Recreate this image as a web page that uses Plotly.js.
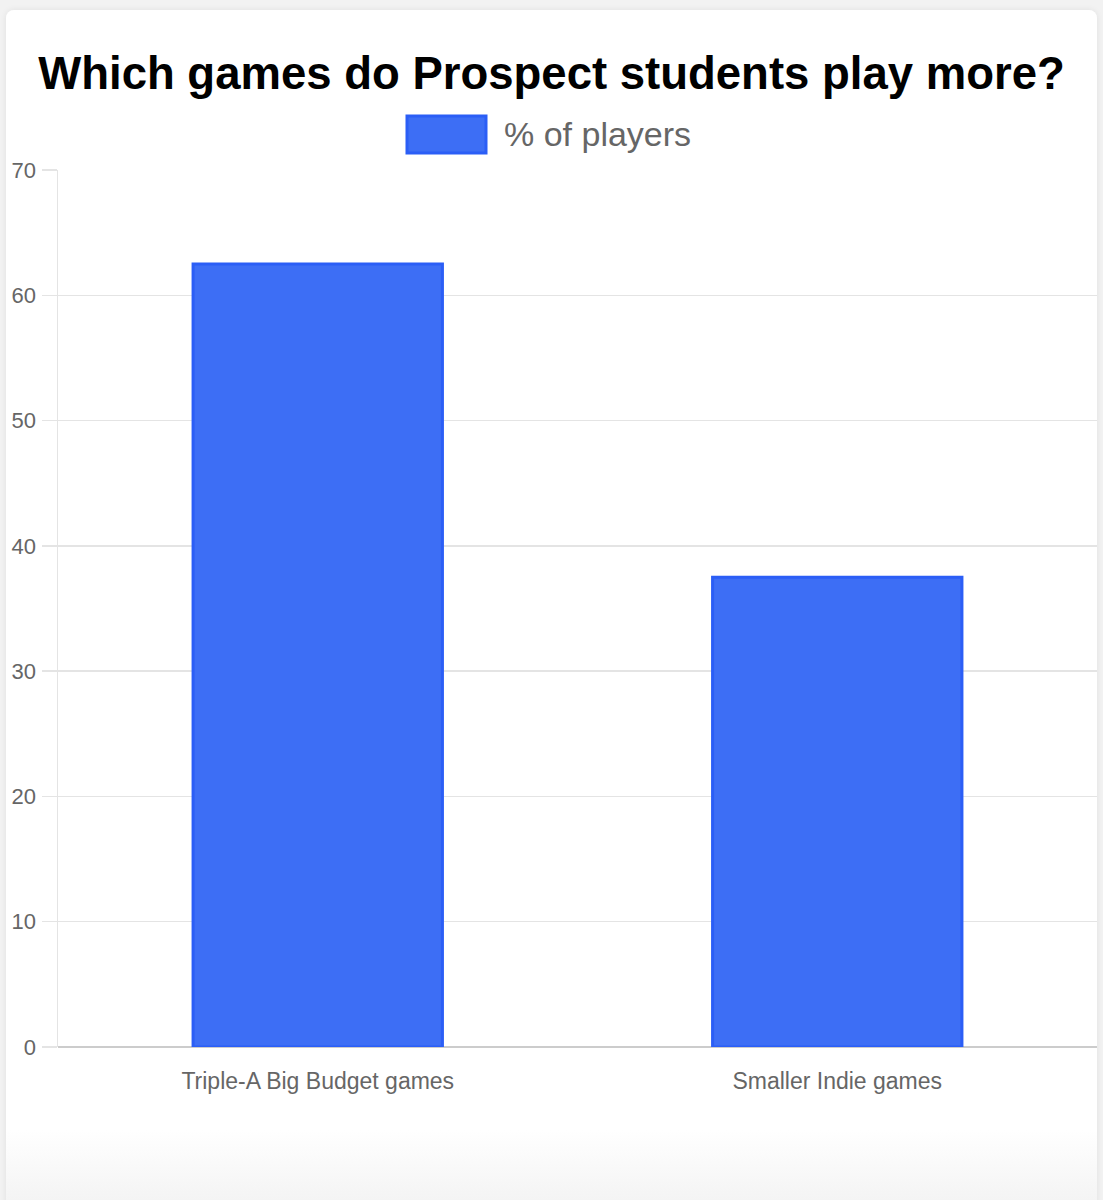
<!DOCTYPE html>
<html>
<head>
<meta charset="utf-8">
<script src="https://cdn.plot.ly/plotly-3.0.1.min.js"></script>
<style>
  html, body { margin: 0; padding: 0; background: #f2f2f2; }
  body { width: 1103px; height: 1200px; position: relative; overflow: hidden; }
  #card {
    position: absolute; left: 6px; top: 10px; width: 1091px; height: 1200px;
    background: linear-gradient(to bottom, #ffffff 0px, #ffffff 1120px, #f4f4f4 1190px);
    border-radius: 8px; box-shadow: 0 0 6px rgba(0,0,0,0.08);
  }
  #chart { position: absolute; left: 0; top: 0; width: 1103px; height: 1200px; }
</style>
</head>
<body>
<div id="card"></div>
<div id="chart"></div>
<script>
// ── Data ──────────────────────────────────────────────
var categories = ['Triple-A Big Budget games', 'Smaller Indie games'];
var pctPlayers = [62.5, 37.5];
var seriesName = '% of players';
var chartTitle = 'Which games do Prospect students play more?';
var yTicks     = [0, 10, 20, 30, 40, 50, 60, 70];

var FILL   = '#3d6ef5';
var BORDER = '#2b5ef6';
var MUTED  = '#666666';
var GRID   = '#e4e4e4';
var FONT   = '"Liberation Sans", Arial, Helvetica, sans-serif';

var W = 1103, H = 1200;
var M = { l: 58, r: 6, t: 170, b: 153 };

var trace = {
    type: 'bar', x: categories, y: pctPlayers, name: seriesName,
    marker: { color: FILL, line: { color: BORDER, width: 3 } },
    hoverinfo: 'skip', showlegend: false
};

// helpers to place the Chart.js-style legend in pixel terms
var PW = W - M.l - M.r, PH = H - M.t - M.b;
function fx(x) { return (x - M.l) / PW; }
function fy(y) { return (H - M.b - y) / PH; }

var layout = {
    width: W, height: H,
    paper_bgcolor: 'rgba(0,0,0,0)', plot_bgcolor: 'rgba(0,0,0,0)',
    margin: M,
    bargap: 0.52,
    font: { family: FONT, color: MUTED },
    title: {
        text: '<b>' + chartTitle + '</b>',
        font: { family: FONT, size: 45.5, color: '#000000' },
        x: 0.5, xanchor: 'center', xref: 'container',
        y: 1 - 73 / H, yanchor: 'middle', yref: 'container'
    },
    xaxis: {
        type: 'category', showgrid: false, zeroline: false,
        showline: false, ticks: '',
        tickfont: { family: FONT, size: 23, color: MUTED },
        ticklabelstandoff: 18
    },
    yaxis: {
        range: [0, 70], tickvals: yTicks, ticktext: yTicks.map(String),
        showgrid: true, gridcolor: GRID, gridwidth: 1.5,
        zeroline: true, zerolinecolor: '#cccccc', zerolinewidth: 2,
        showline: true, linecolor: GRID, linewidth: 1.5,
        ticks: 'outside', ticklen: 15, tickcolor: GRID, tickwidth: 1.5,
        tickfont: { family: FONT, size: 22, color: MUTED },
        ticklabelstandoff: 1
    },
    shapes: [{
        type: 'rect', xref: 'paper', yref: 'paper',
        x0: fx(407), x1: fx(486), y0: fy(153), y1: fy(116),
        fillcolor: FILL, line: { color: BORDER, width: 3 }
    }],
    annotations: [{
        xref: 'paper', yref: 'paper',
        x: fx(502), xanchor: 'left', y: fy(134), yanchor: 'middle',
        text: seriesName, showarrow: false,
        font: { family: FONT, size: 34, color: MUTED }
    }]
};

Plotly.newPlot('chart', [trace], layout, { displayModeBar: false, staticPlot: true });
</script>
</body>
</html>
